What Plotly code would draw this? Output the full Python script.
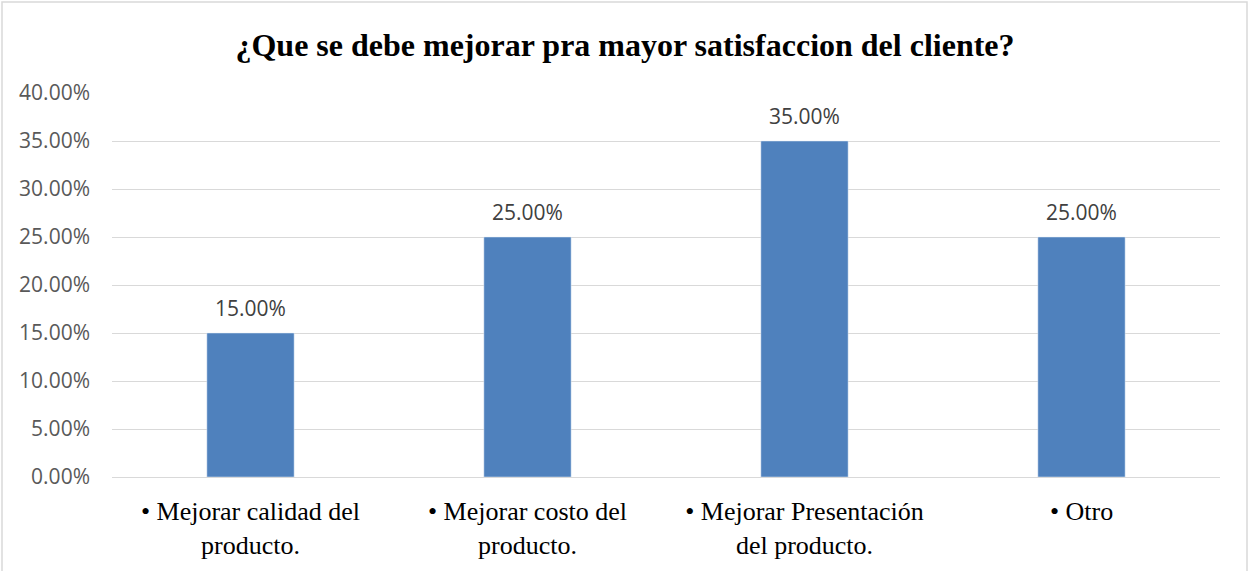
import plotly.graph_objects as go

# 数据
categories = [
    "• Mejorar calidad del<br>producto.",
    "• Mejorar costo del<br>producto.",
    "• Mejorar Presentación<br>del producto.",
    "• Otro<br> ",
]
values = [0.15, 0.25, 0.35, 0.25]
y_ticks = [0, 0.05, 0.10, 0.15, 0.20, 0.25, 0.30, 0.35, 0.40]

W, H = 1249, 571
L, R, T, B = 112, 29, 93, 94
pw, ph = W - L - R, H - T - B

fig = go.Figure(
    go.Bar(
        x=categories,
        y=values,
        marker_color="#4f81bd",
        width=0.315,
    )
)

# 数据标签
for c, v in zip(categories, values):
    fig.add_annotation(
        x=c,
        y=v,
        text=f"{v:.2%}",
        showarrow=False,
        yanchor="bottom",
        yshift=9,
        font=dict(family="Open Sans, Liberation Sans", size=21, color="#404040"),
    )

fig.update_layout(
    width=W,
    height=H,
    margin=dict(l=L, r=R, t=T, b=B),
    plot_bgcolor="white",
    paper_bgcolor="white",
    showlegend=False,
    title=dict(
        text="<b>¿Que se debe mejorar pra mayor satisfaccion del cliente?</b>",
        x=(625 - L) / pw,
        xref="paper",
        xanchor="center",
        y=1 - 45 / H,
        yanchor="middle",
        font=dict(family="Liberation Serif", size=32, color="black"),
    ),
    # 外框
    shapes=[
        dict(
            type="rect",
            xref="paper",
            yref="paper",
            x0=(2 - L) / pw,
            x1=(W - 2 - L) / pw,
            y0=-(B + 5) / ph,
            y1=1 + (T - 2) / ph,
            line=dict(color="#d9d9d9", width=1.5),
            layer="below",
        )
    ],
)

fig.update_yaxes(
    range=[0, 0.40],
    tickvals=y_ticks,
    tickformat=".2%",
    showgrid=True,
    gridcolor="#d9d9d9",
    gridwidth=1,
    zeroline=False,
    showline=False,
    ticks="",
    ticklabelstandoff=21,
    tickfont=dict(family="Open Sans, Liberation Sans", size=21, color="#595959"),
)

fig.update_xaxes(
    showline=True,
    linecolor="#d9d9d9",
    linewidth=1,
    ticks="",
    ticklabelstandoff=11,
    tickfont=dict(family="Liberation Serif", size=26, color="black"),
)

# 去掉页面默认边距
fig.write_html(
    "out.html",
    config={"displayModeBar": False},
    post_script="document.body.style.margin='0';",
)
